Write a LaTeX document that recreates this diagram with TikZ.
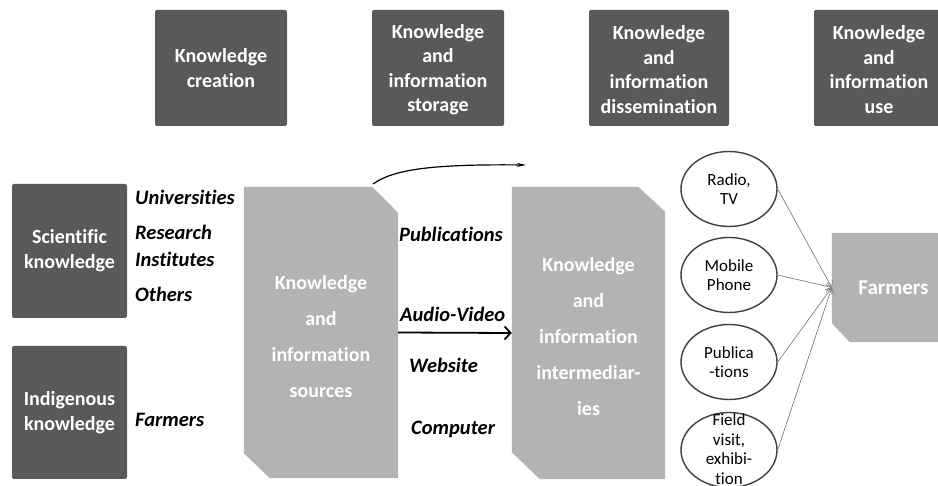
\documentclass[tikz,border=0pt]{standalone}
\usepackage{fontspec}
\setmainfont[Ligatures=NoCommon]{Carlito}
\usetikzlibrary{shapes.geometric,arrows.meta,backgrounds,calc}
\definecolor{darkbox}{HTML}{595959}
\definecolor{lightbox}{HTML}{B3B3B3}
\definecolor{ellline}{HTML}{404040}
\definecolor{thinarrow}{HTML}{808080}
\begin{document}
\begin{tikzpicture}[x=1pt,y=-1pt,
  topbox/.style={fill=darkbox, rounded corners=2pt, text=white, align=center,
    font=\bfseries\fontsize{20}{24.5}\selectfont, minimum height=116pt, inner sep=0pt},
  sidebox/.style={fill=darkbox, rounded corners=2pt, text=white, align=center,
    font=\bfseries\fontsize{20}{25}\selectfont, minimum width=115pt, inner sep=0pt},
  bigtext/.style={text=white, align=center, inner sep=0pt,
    font=\bfseries\fontsize{20}{36}\selectfont},
  lab/.style={font=\bfseries\itshape\fontsize{20.5}{24}\selectfont, anchor=base west, inner sep=0pt},
  ell/.style={ellipse, draw=ellline, line width=1.4pt, minimum width=96pt, minimum height=75pt,
    inner sep=0pt, align=center, font=\fontsize{17}{19.5}\selectfont},
  elltext/.style={align=center, inner sep=0pt, font=\fontsize{17}{19.5}\selectfont},
  thinarr/.style={draw=thinarrow, line width=0.7pt, -{Straight Barb[length=5pt,width=8pt]}},
  mainarr/.style={draw=black, line width=1.8pt, -{Straight Barb[length=6pt,width=13pt]}},
  curvearr/.style={draw=black, line width=1.2pt, -{Stealth[length=9pt,width=4pt]}}
]
\useasboundingbox (0,0) rectangle (938,486);

% top stage boxes
\node[topbox, minimum width=132pt] (tb1) at (221,68) {Knowledge\\creation};
\node[topbox, minimum width=132pt] (tb2) at (438,68) {\rule{0pt}{17pt}Knowledge\\and\\information\\storage};
\node[topbox, minimum width=140pt] (tb3) at (659,68) {\rule{0pt}{17pt}Knowledge\\and\\information\\dissemination};
\node[topbox, minimum width=130pt] (tb4) at (879,68) {\rule{0pt}{17pt}Knowledge\\and\\information\\use};

% left knowledge boxes
\node[sidebox, minimum height=134pt] (sci) at (69.5,251) {Scientific\\knowledge};
\node[sidebox, minimum height=133pt] (ind) at (69.5,412.5) {Indigenous\\knowledge};

% labels
\node[lab] (univ) at (135,205) {Universities};
\node[lab] (res) at (135,240) {Research};
\node[lab] (inst) at (135,267) {Institutes};
\node[lab] (oth) at (135,302) {Others};
\node[lab] (farm) at (135,427) {Farmers};

\node[lab] (pub) at (399,242) {Publications};
\node[lab] (av) at (400,322) {Audio-Video};
\node[lab] (web) at (409,373) {Website};
\node[lab] (comp) at (411,435) {Computer};

% sources and intermediaries
\node[minimum width=154pt, minimum height=291pt, inner sep=0pt] (src) at (321,332.5) {};
\node[bigtext] (srctxt) at ($(src.center)+(0,4)$) {Knowledge\\and\\information\\sources};
\node[minimum width=153pt, minimum height=292pt, inner sep=0pt] (inter) at (588.5,333) {};
\node[bigtext] (intertxt) at ($(inter.center)+(0,3.5)$) {Knowledge\\and\\information\\intermediar-\\ies};
\node[bigtext, minimum width=123pt, minimum height=109pt, font=\bfseries\fontsize{21}{25}\selectfont] (farmers) at (893.5,287.5)
  {Farmers};

\begin{scope}[on background layer]
  \fill[lightbox] (src.north west) -- ($(src.north east)+(-26,0)$) -- ($(src.north east)+(0,26)$)
    -- (src.south east) -- ($(src.south west)+(26,0)$) -- ($(src.south west)+(0,-25)$) -- cycle;
  \fill[lightbox] (inter.north west) -- ($(inter.north east)+(-27,0)$) -- ($(inter.north east)+(0,25)$)
    -- (inter.south east) -- ($(inter.south west)+(28,0)$) -- ($(inter.south west)+(0,-27)$) -- cycle;
  \fill[lightbox] (farmers.north west) -- ($(farmers.north east)+(-18,0)$) -- ($(farmers.north east)+(0,19)$)
    -- (farmers.south east) -- ($(farmers.south west)+(18,0)$) -- ($(farmers.south west)+(0,-19)$) -- cycle;
\end{scope}

% channels
\node[ell] (radio) at (729,189) {Radio,\\TV};
\node[ell] (mobile) at (729,275) {Mobile\\Phone};
\node[ell] (publ) at (729,362) {Publica\\-tions};
\node[ell] (field) at (729,450) {};
\node[elltext] (fieldtxt) at ($(field.center)+(0,-1)$) {Field\\visit,\\exhibi-\\tion};

% connectors
\draw[mainarr] (src.east) -- (inter.west);
\coordinate (cs) at (373,184);
\coordinate (ce) at (526,165);
\draw[curvearr] (cs) .. controls (393,170) and (428,164) .. (ce);

\draw[thinarr] (radio.east) -- (farmers.west);
\draw[thinarr] (mobile.east) -- (farmers.west);
\draw[thinarr] (publ.east) -- (farmers.west);
\draw[thinarr] (field.east) -- (farmers.west);
\end{tikzpicture}
\end{document}
